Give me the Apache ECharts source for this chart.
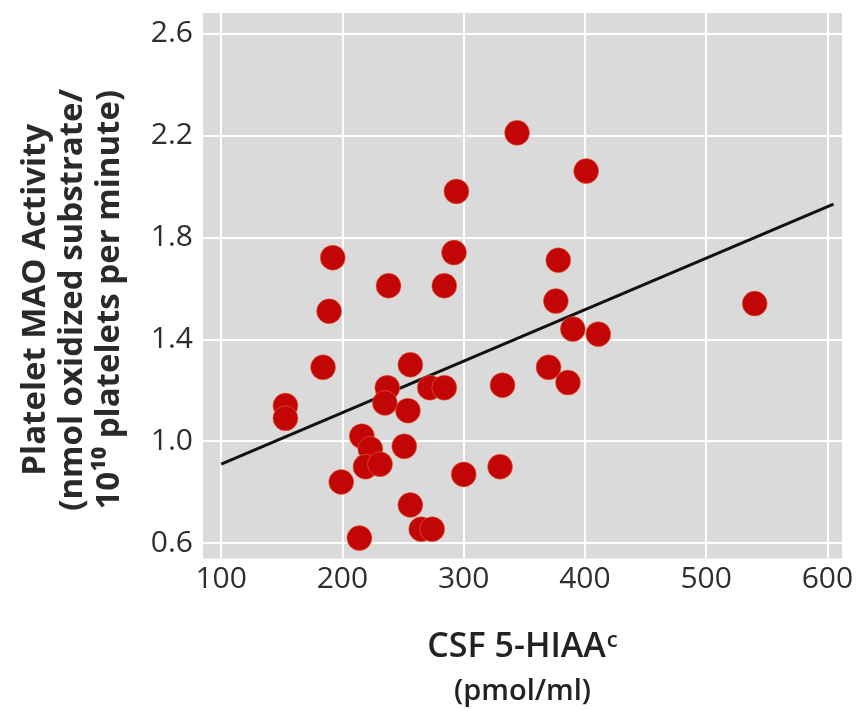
<!DOCTYPE html>
<html>
<head>
<meta charset="utf-8">
<script src="https://cdn.jsdelivr.net/npm/echarts@6/dist/echarts.min.js"></script>
<style>
  html, body { margin: 0; padding: 0; background: #fff; }
  #chart { width: 859px; height: 711px; }
</style>
</head>
<body>
<div id="chart"></div>
<script>
// CSF 5-HIAA (pmol/ml) vs platelet MAO activity, one point per subject
const csfValues = [344, 401, 294, 192, 292, 238, 284, 378, 376, 189, 390, 411, 540,
  184, 256, 237, 235, 254, 272, 284, 332, 370, 386, 153, 153,
  216, 223, 219, 231, 251, 199, 300, 330, 256, 265, 274, 214]
const maoValues = [2.21, 2.06, 1.98, 1.72, 1.74, 1.61, 1.61, 1.71, 1.55, 1.51, 1.44, 1.42, 1.54,
  1.29, 1.30, 1.21, 1.15, 1.12, 1.21, 1.21, 1.22, 1.29, 1.23, 1.14, 1.09,
  1.02, 0.97, 0.90, 0.91, 0.98, 0.84, 0.87, 0.90, 0.75, 0.655, 0.655, 0.62]

// regression line end points
const trendX = [100, 605]
const trendY = [0.91, 1.93]

const xTicks = [100, 200, 300, 400, 500, 600]
const yTicks = [0.6, 1.0, 1.4, 1.8, 2.2, 2.6]

const points = csfValues.map((x, i) => [x, maoValues[i]])
const trend = trendX.map((x, i) => [x, trendY[i]])

var myChart = echarts.init(document.getElementById('chart'))

var option = {
  animation: false,
  grid: {
    left: 203,
    right: 17,
    top: 13,
    bottom: 146,
    show: true,
    backgroundColor: '#dadadb',
    borderWidth: 0
  },
  xAxis: {
    type: 'value',
    min: 85,
    max: 612,
    name: '{a|CSF 5-HIAA}{s|c}\n{b|(pmol/ml)}',
    nameLocation: 'middle',
    nameGap: 67,
    nameTextStyle: {
      fontFamily: 'Open Sans',
      color: '#222',
      rich: {
        a: { fontFamily: 'Open Sans', fontSize: 34, fontWeight: 600, color: '#222', lineHeight: 44 },
        s: { fontFamily: 'Open Sans', fontSize: 22, fontWeight: 600, color: '#222', lineHeight: 44, verticalAlign: 'top', padding: [4, 0, 0, 1] },
        b: { fontFamily: 'Open Sans', fontSize: 29, fontWeight: 600, color: '#222', lineHeight: 44 }
      }
    },
    axisLine: { show: false },
    axisTick: { show: false, customValues: xTicks },
    axisLabel: {
      customValues: xTicks,
      fontFamily: 'Open Sans',
      fontSize: 30,
      color: '#2e2e2e',
      margin: 6,
      formatter: v => String(v)
    },
    splitLine: { show: true, lineStyle: { color: '#fff', width: 2 } }
  },
  yAxis: {
    type: 'value',
    min: 0.54,
    max: 2.68,
    name: 'Platelet MAO Activity\n(nmol oxidized substrate/\n10\u00B9\u2070 platelets per minute)',
    nameLocation: 'middle',
    nameGap: 75,
    nameTextStyle: {
      fontFamily: 'Open Sans',
      fontSize: 33,
      fontWeight: 'bold',
      color: '#2a2a2a',
      lineHeight: 37,
      padding: [0, 28, 0, 0]
    },
    axisLine: { show: false },
    axisTick: { show: false, customValues: yTicks },
    axisLabel: {
      customValues: yTicks,
      fontFamily: 'Open Sans',
      fontSize: 30,
      color: '#2e2e2e',
      margin: 10,
      formatter: v => v.toFixed(1)
    },
    splitLine: { show: true, lineStyle: { color: '#fff', width: 2 } }
  },
  series: [
    {
      name: 'trend',
      type: 'line',
      data: trend,
      symbol: 'none',
      lineStyle: { color: '#111', width: 3 },
      z: 1
    },
    {
      name: 'subjects',
      type: 'scatter',
      data: points,
      symbolSize: 25,
      itemStyle: {
        color: '#c20606',
        opacity: 1,
        borderColor: 'rgba(235, 120, 70, 0.5)',
        borderWidth: 1
      },
      z: 2
    }
  ]
}

myChart.setOption(option)
</script>
</body>
</html>
